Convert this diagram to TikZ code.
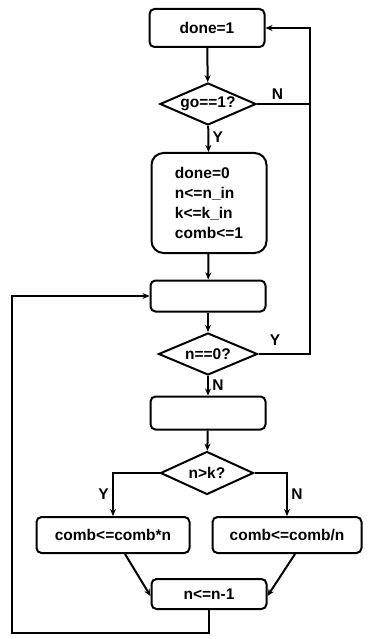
\documentclass[tikz,border=0pt]{standalone}
\usepackage{fontspec}
\setmainfont{Liberation Sans}
\usetikzlibrary{shapes.geometric,positioning}
\usetikzlibrary{arrows.meta}

\begin{document}
\begin{tikzpicture}[x=1pt, y=-1pt, line width=2pt,
  every node/.style={font=\bfseries\fontsize{15.5}{20}\selectfont},
  box/.style={draw, rectangle, rounded corners=5pt, minimum width=115pt, inner sep=0pt},
  test/.style={draw, diamond, aspect=2.4, minimum width=96pt, minimum height=42pt, inner sep=0pt},
  flow/.style={-{Stealth[length=7pt, width=6pt]}}]

\useasboundingbox (0,0) rectangle (378,639);

\node[box, minimum height=38pt] (done1) at (207,28) {done=1};
\node[test] (go) at (208,104) {go==1?};
\node[box, rounded corners=12pt, minimum height=100pt, align=left] (init) at (209,203) {done=0\\n<=n\_in\\k<=k\_in\\comb<=1};
\node[box, minimum height=31pt] (blank1) at (208,296) {};
\node[test, minimum width=99pt] (zero) at (208,354) {n==0?};
\node[box, minimum height=33pt] (blank2) at (208,413) {};
\node[test, minimum width=93pt, minimum height=43pt] (nk) at (207,473) {n>k?};
\node[box, minimum width=153pt, minimum height=36pt] (mul) at (113,535) {comb<=comb*n};
\node[box, minimum width=149pt, minimum height=36pt] (div) at (287,535) {comb<=comb/n};
\node[box, minimum height=30pt] (dec) at (209,594) {n<=n-1};

\coordinate (railtop) at (310,28);
\coordinate (loopcorner) at (12,633);

\draw[flow] (done1) -- (go);
\draw[flow] (go) -- node[right, pos=0.45] {Y} (init);
\draw (go.east) -- node[above right, pos=0.2] {N} (go.east -| railtop);
\draw[flow] (zero.east) -| (railtop) -- (done1.east);
\draw[flow] (init) -- (blank1);
\draw[flow] (blank1) -- (zero);
\node at (275,340) {Y};
\draw[flow] (zero) -- node[right, pos=0.45] {N} (blank2);
\draw[flow] (blank2) -- (nk);
\draw[flow] (nk.west) -| node[left, pos=0.75] {Y} (mul.north);
\draw[flow] (nk.east) -| node[right, pos=0.75] {N} (div.north);
\draw[flow] ([xshift=12pt]mul.south) -- ([yshift=-2pt]dec.west);
\draw[flow] ([xshift=8pt]div.south) -- ([yshift=-2pt]dec.east);
\draw[flow] (dec.south) |- (loopcorner) |- (blank1.west);

\end{tikzpicture}
\end{document}
